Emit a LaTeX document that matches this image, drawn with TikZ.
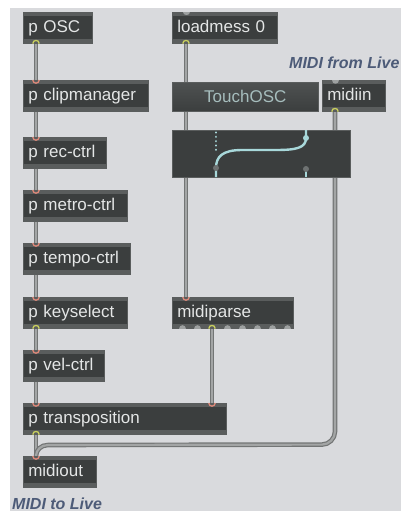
\documentclass[tikz,border=0pt]{standalone}
\usepackage{fontspec}
\setmainfont{Liberation Sans}
\usetikzlibrary{calc}
\definecolor{bgc}{HTML}{D9DADD}
\definecolor{bodyc}{HTML}{3B3E3E}
\definecolor{stripc}{HTML}{5A5D5D}
\definecolor{txtc}{HTML}{E4E6E6}
\definecolor{cabE}{HTML}{737575}
\definecolor{cabM}{HTML}{A3A5A5}
\definecolor{inc}{HTML}{E0897A}
\definecolor{outc}{HTML}{C9CF5E}
\definecolor{nubc}{HTML}{9EA1A1}
\definecolor{cyc}{HTML}{A8D8DA}
\definecolor{dotc}{HTML}{6E7272}
\definecolor{lblc}{HTML}{4D5B78}
\definecolor{touchT}{HTML}{A6BDBD}
\pgfdeclarelayer{bglayer}
\pgfdeclarelayer{cablayer}
\pgfsetlayers{bglayer,cablayer,main}
\tikzset{
  mx/.style={anchor=north west, fill=bodyc, draw=stripc, line width=0.6pt,
    inner xsep=5pt, inner ysep=0pt, text=txtc, align=left,
    font=\fontsize{17}{20}\selectfont, text height=12.5pt, text depth=3.5pt,
    minimum height=31pt,
    path picture={
      \fill[stripc] (path picture bounding box.north west) rectangle ([yshift=-4pt]path picture bounding box.north east);
      \fill[stripc] (path picture bounding box.south west) rectangle ([yshift=4pt]path picture bounding box.south east);}},
  cable/.style={draw=cabE, line width=1.2pt, double=cabM, double distance=2.2pt},
  lbl/.style={anchor=base west, inner sep=0pt, text=lblc, font=\fontsize{16}{18}\selectfont\bfseries\itshape},
}
\newcommand\inmark[1]{\draw[inc, line width=1.3pt] ($(#1)+(-3.2,0)$) .. controls ($(#1)+(-3.2,4.2)$) and ($(#1)+(3.2,4.2)$) .. ($(#1)+(3.2,0)$);}
\newcommand\outmark[1]{\draw[outc, line width=1.3pt] ($(#1)+(-3.2,0)$) .. controls ($(#1)+(-3.2,-4.2)$) and ($(#1)+(3.2,-4.2)$) .. ($(#1)+(3.2,0)$);}
\newcommand\innub[1]{\fill[nubc] ($(#1)+(-3.5,0)$) .. controls ($(#1)+(-3.5,4.5)$) and ($(#1)+(3.5,4.5)$) .. ($(#1)+(3.5,0)$) -- cycle;}
\newcommand\outnub[1]{\fill[nubc] ($(#1)+(-3.5,0)$) .. controls ($(#1)+(-3.5,-4.5)$) and ($(#1)+(3.5,-4.5)$) .. ($(#1)+(3.5,0)$) -- cycle;}
\begin{document}
\begin{tikzpicture}[x=1pt, y=-1pt]
\useasboundingbox (0,0) rectangle (401,511);
\begin{pgfonlayer}{bglayer}
  \fill[white] (0,0) rectangle (401,511);
  \fill[bgc] (10,8) rectangle (401,511);
\end{pgfonlayer}

% left column
\node[mx, minimum width=69pt, text width=59pt] (osc) at (23,12) {p OSC};
\node[mx, minimum width=125pt, text width=115pt] (clip) at (23,80) {p clipmanager};
\node[mx, minimum width=83pt, text width=73pt] (rec) at (23,137) {p rec-ctrl};
\node[mx, minimum width=104pt, text width=94pt] (metro) at (23,190) {p metro-ctrl};
\node[mx, minimum width=107pt, text width=97pt] (tempo) at (23,243) {p tempo-ctrl};
\node[mx, minimum width=104pt, text width=94pt] (key) at (23,297) {p keyselect};
\node[mx, minimum width=81pt, text width=71pt] (vel) at (23,350) {p vel-ctrl};
\node[mx, minimum width=203pt, text width=193pt] (trans) at (23,403) {p transposition};
\node[mx, minimum width=73pt, text width=63pt] (mout) at (23,456) {midiout};

% right column
\node[mx, minimum width=105pt, text width=95pt] (load) at (172,12) {loadmess 0};
\node[anchor=north west, top color=bodyc!90!white, bottom color=bodyc, draw=stripc, line width=0.6pt,
      minimum width=146pt, minimum height=29pt, inner sep=0pt, text=touchT,
      font=\fontsize{17}{20}\selectfont] (touch) at (172,82) {TouchOSC};
\node[mx, minimum width=63pt, text width=53pt] (midiin) at (322,80) {midiin};
\node[anchor=north west, fill=bodyc, draw=stripc, line width=0.6pt,
      minimum width=178pt, minimum height=47pt, inner sep=0pt] (gate) at (172,130) {};
\node[mx, minimum width=121pt, text width=111pt] (mparse) at (172,297) {midiparse};

% labels
\node[lbl] (mfl) at (289,68) {MIDI from Live};
\node[lbl] (mtl) at (12,509) {MIDI to Live};

% port coordinates
\coordinate (osc-o) at ($(osc.south west)+(13,0)$);
\coordinate (clip-i) at ($(clip.north west)+(13,0)$);
\coordinate (clip-o) at ($(clip.south west)+(13,0)$);
\coordinate (rec-i) at ($(rec.north west)+(13,0)$);
\coordinate (rec-o) at ($(rec.south west)+(13,0)$);
\coordinate (metro-i) at ($(metro.north west)+(13,0)$);
\coordinate (metro-o) at ($(metro.south west)+(13,0)$);
\coordinate (tempo-i) at ($(tempo.north west)+(13,0)$);
\coordinate (tempo-o) at ($(tempo.south west)+(13,0)$);
\coordinate (key-i) at ($(key.north west)+(13,0)$);
\coordinate (key-o) at ($(key.south west)+(13,0)$);
\coordinate (vel-i) at ($(vel.north west)+(13,0)$);
\coordinate (vel-o) at ($(vel.south west)+(13,0)$);
\coordinate (trans-i) at ($(trans.north west)+(13,0)$);
\coordinate (trans-i2) at ($(trans.north west)+(189,0)$);
\coordinate (trans-o) at ($(trans.south west)+(13,0)$);
\coordinate (mout-i) at ($(mout.north west)+(13,0)$);
\coordinate (load-i) at ($(load.north west)+(14,0)$);
\coordinate (load-o) at ($(load.south west)+(14,0)$);
\coordinate (midiin-i) at ($(midiin.north west)+(13,0)$);
\coordinate (midiin-o) at ($(midiin.south west)+(13,0)$);
\coordinate (mparse-i) at ($(mparse.north west)+(14,0)$);
\coordinate (mparse-o) at ($(mparse.south west)+(40,0)$);
\coordinate (bend1) at ($(midiin-o |- trans.south)+(0,10)$);
\coordinate (bend2) at ($(mout-i)+(12,-11)$);

% cables
\begin{pgfonlayer}{cablayer}
  \draw[cable] (osc-o) -- (clip-i);
  \draw[cable] (clip-o) -- (rec-i);
  \draw[cable] (rec-o) -- (metro-i);
  \draw[cable] (metro-o) -- (tempo-i);
  \draw[cable] (tempo-o) -- (key-i);
  \draw[cable] (key-o) -- (vel-i);
  \draw[cable] (vel-o) -- (trans-i);
  \draw[cable] (trans-o) -- (mout-i);
  \draw[cable] (load-o) -- (mparse-i);
  \draw[cable] (mparse-o) -- (trans-i2);
  \draw[cable] (midiin-o) -- ($(bend1)+(0,-13)$)
     .. controls ($(bend1)+(0,-6)$) and ($(bend1)+(-6,0)$) .. ($(bend1)+(-13,0)$)
     -- (bend2)
     .. controls ($(bend2)+(-7,0)$) and ($(mout-i)+(0,-6)$) .. (mout-i);
\end{pgfonlayer}

% gate internals
\begin{scope}[shift={(gate.north west)}]
  \draw[cyc, line width=2.2pt, line cap=round, dash pattern=on 0.1pt off 4.2pt] (44,2.5) -- (44,20);
  \draw[cyc, line width=2.4pt] (134,0) -- (134,8)
     .. controls (134,18) and (124,20) .. (104,20) -- (70,20)
     .. controls (50,20) and (44,27) .. (44,38) -- (44,47);
  \fill[cyc] (134,8) circle[radius=3pt];
  \draw[cyc, line width=2.4pt] (134,39) -- (134,47);
  \fill[dotc] (44,38) circle[radius=3pt];
  \fill[dotc] (134,39) circle[radius=3pt];
\end{scope}

% port markers
\outmark{osc-o}\inmark{clip-i}\inmark{rec-i}\inmark{metro-i}\inmark{tempo-i}
\inmark{key-i}\outmark{key-o}\inmark{vel-i}\inmark{trans-i}\inmark{trans-i2}
\outmark{trans-o}\inmark{mout-i}
\innub{load-i}\outmark{load-o}
\innub{midiin-i}\outmark{midiin-o}
\inmark{mparse-i}
\foreach \k in {10,25,55,70,85,100,115} {\outnub{$(mparse.south west)+(\k,0)$}}
\outmark{mparse-o}
\end{tikzpicture}
\end{document}
